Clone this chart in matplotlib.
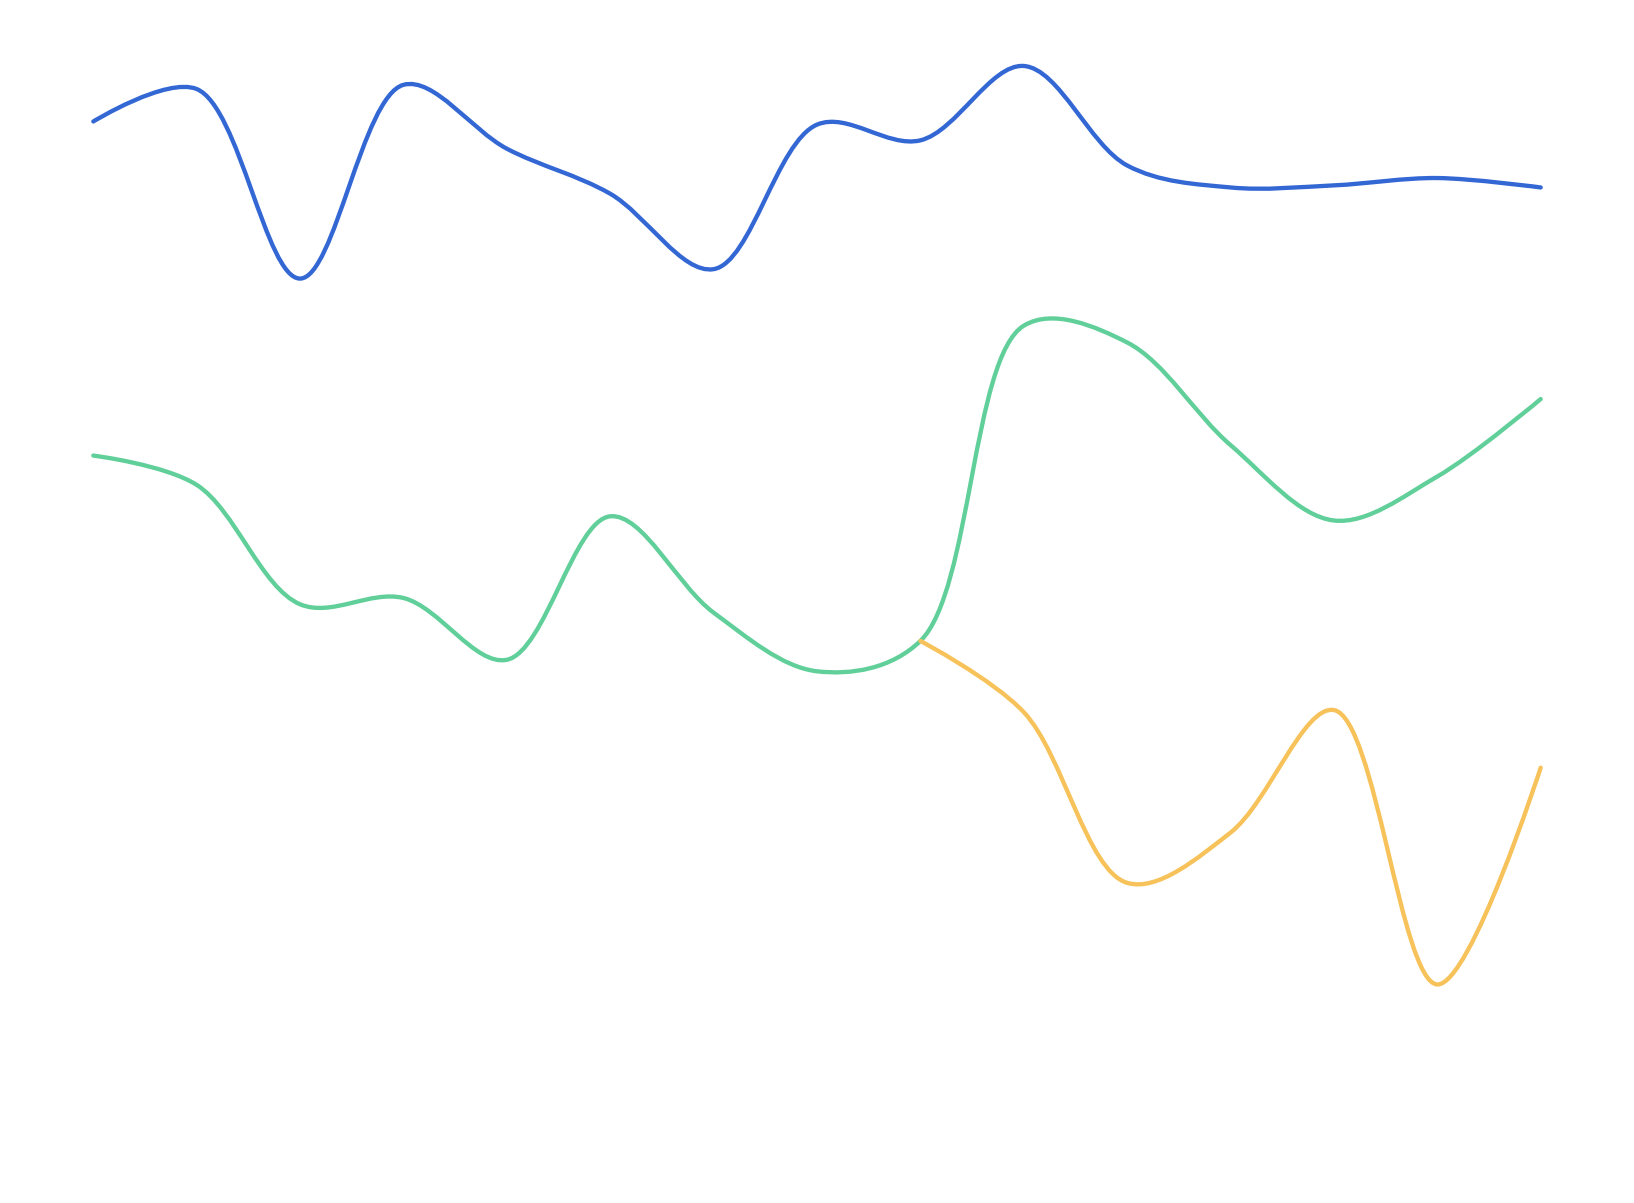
import numpy as np
import matplotlib
matplotlib.use("Agg")
import matplotlib.pyplot as plt
from matplotlib.path import Path
from matplotlib.patches import PathPatch

# Data (no axes are drawn in the reference)
steps = list(range(15))
blue_values = [984, 1015, 834, 1019, 958, 915, 843, 981, 966, 1037, 942, 921, 923, 930, 921]
green_values = [665, 637, 523, 529, 470, 607, 515, 459, 488, 789, 773, 675, 603, 645, 719]
yellow_steps = list(range(8, 15))
yellow_values = [488, 420, 257, 305, 422, 160, 367]

BLUE = "#3267d4"
GREEN = "#60cf99"
YELLOW = "#f6c259"

W, H = 1634, 1203
X_PX = (1540.7 - 93.3) / 14   # pixel width of one step
Y_PX = 1152 / 1100            # pixel height of one value unit


def smooth_path(xs, ys, alpha=0.5):
    """Centripetal Catmull-Rom through the points (like d3.curveCatmullRom)."""
    pts = np.column_stack([np.asarray(xs, float) * X_PX,
                           np.asarray(ys, float) * Y_PX])
    n = len(pts)
    verts = [pts[0]]
    codes = [Path.MOVETO]
    for i in range(n - 1):
        a, b = pts[i], pts[i + 1]
        l12 = np.hypot(*(b - a)) ** alpha
        c1, c2 = a.copy(), b.copy()
        if i > 0:
            p0 = pts[i - 1]
            l01 = np.hypot(*(a - p0)) ** alpha
            A = 2 * l01 ** 2 + 3 * l01 * l12 + l12 ** 2
            N = 3 * l01 * (l01 + l12)
            c1 = (a * A - p0 * l12 ** 2 + b * l01 ** 2) / N
        if i < n - 2:
            p3 = pts[i + 2]
            l23 = np.hypot(*(p3 - b)) ** alpha
            B = 2 * l23 ** 2 + 3 * l23 * l12 + l12 ** 2
            M = 3 * l23 * (l23 + l12)
            c2 = (b * B + a * l23 ** 2 - p3 * l12 ** 2) / M
        verts += [c1, c2, b]
        codes += [Path.CURVE4] * 3
    verts = np.array(verts)
    verts[:, 0] /= X_PX
    verts[:, 1] /= Y_PX
    return Path(verts, codes)


fig = plt.figure(figsize=(W / 100, H / 100), dpi=100)
ax = fig.add_axes([93.3 / W, 1 - 1152 / H, (1540.7 - 93.3) / W, 1152 / H])
ax.set_xlim(0, 14)
ax.set_ylim(0, 1100)
ax.axis("off")

for xs, ys, col in [(steps, blue_values, BLUE),
                    (steps, green_values, GREEN),
                    (yellow_steps, yellow_values, YELLOW)]:
    patch = PathPatch(smooth_path(xs, ys), facecolor="none", edgecolor=col,
                      lw=3.1, capstyle="round", joinstyle="round", clip_on=False)
    ax.add_patch(patch)

fig.savefig("out.png", dpi=100, facecolor="white")
